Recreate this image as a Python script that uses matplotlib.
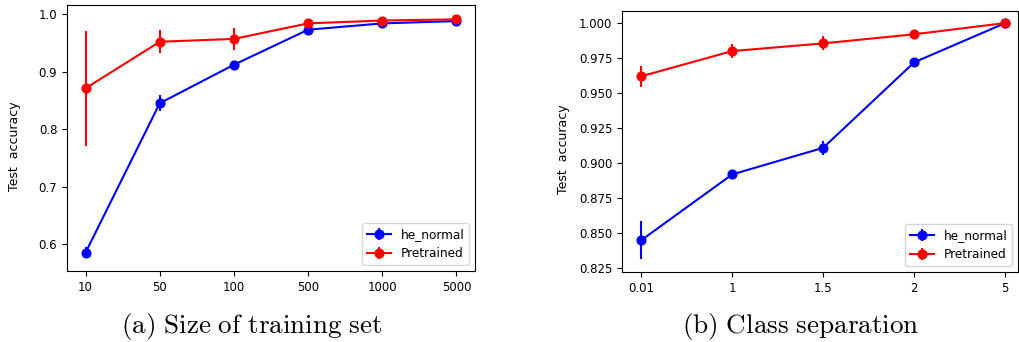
import numpy as np
import matplotlib as mplt
mplt.use("Agg")
import matplotlib.pyplot as plt

# (a) size of training set
size_labels = ["10", "50", "100", "500", "1000", "5000"]
size_he = [0.585, 0.845, 0.912, 0.973, 0.984, 0.988]
size_he_err = [0.010, 0.014, 0.004, 0.004, 0.003, 0.002]
size_pre = [0.871, 0.952, 0.957, 0.984, 0.989, 0.991]
size_pre_err = [0.100, 0.020, 0.019, 0.003, 0.002, 0.002]

# (b) class separation
sep_labels = ["0.01", "1", "1.5", "2", "5"]
sep_he = [0.845, 0.892, 0.911, 0.972, 1.000]
sep_he_err = [0.0135, 0.002, 0.005, 0.002, 0.0005]
sep_pre = [0.962, 0.980, 0.9855, 0.992, 1.000]
sep_pre_err = [0.0075, 0.005, 0.005, 0.001, 0.0005]

plt.rcParams["mathtext.fontset"] = "cm"
plt.rcParams["font.size"] = 8.5

fig = plt.figure(figsize=(10.19, 3.42), dpi=100)
ax1 = fig.add_axes([67 / 1019, 1 - 271 / 342, 408 / 1019, 266 / 342])
ax2 = fig.add_axes([622 / 1019, 1 - 272 / 342, 396 / 1019, 261 / 342])

def draw(ax, labels, he, he_err, pre, pre_err):
    x = np.arange(len(labels))
    ax.errorbar(x, he, yerr=he_err, fmt="-o", color="b", lw=1.5, ms=6.3, label="he_normal")
    ax.errorbar(x, pre, yerr=pre_err, fmt="-o", color="r", lw=1.5, ms=6.3, label="Pretrained")
    ax.set_xticks(x)
    ax.set_xticklabels(labels)
    ax.set_ylabel("Test  accuracy", fontsize=9)
    ax.legend(loc="lower right", fontsize=8.7)

draw(ax1, size_labels, size_he, size_he_err, size_pre, size_pre_err)
ax1.set_xlim(-0.25, 5.25)
ax1.set_ylim(0.553, 1.016)
ax1.set_yticks([0.6, 0.7, 0.8, 0.9, 1.0])
ax1.yaxis.set_label_coords(-0.113, 0.47)

draw(ax2, sep_labels, sep_he, sep_he_err, sep_pre, sep_pre_err)
ax2.set_xlim(-0.21, 4.14)
ax2.set_ylim(0.8224, 1.0086)
ax2.set_yticks([0.825, 0.85, 0.875, 0.9, 0.925, 0.95, 0.975, 1.0])
ax2.set_yticklabels(["0.825", "0.850", "0.875", "0.900", "0.925", "0.950", "0.975", "1.000"])
ax2.yaxis.set_label_coords(-0.131, 0.47)

fig.text(252 / 1019, 1 - 327 / 342, r"$\mathrm{(a)\ Size\ of\ training\ set}$",
         ha="center", va="center", fontsize=19.5)
fig.text(801 / 1019, 1 - 327 / 342, r"$\mathrm{(b)\ Class\ separation}$",
         ha="center", va="center", fontsize=19.5)

fig.savefig("out.png", dpi=100)
